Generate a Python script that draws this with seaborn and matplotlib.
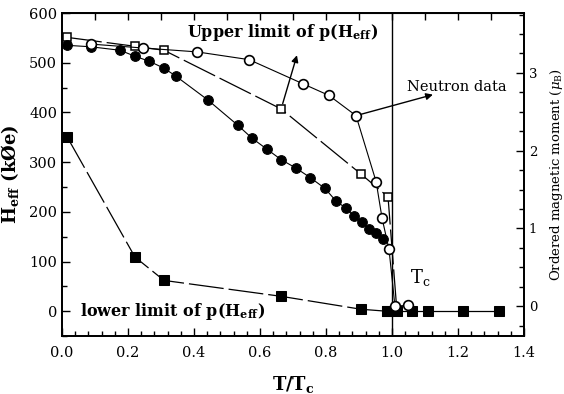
import numpy as np
import matplotlib
matplotlib.use("Agg")
import matplotlib.pyplot as plt
from matplotlib.ticker import MultipleLocator
import seaborn as sns

# Hyperfine field (filled circles, left axis, kOe)
heff_t = [0.015, 0.088, 0.176, 0.221, 0.264, 0.309, 0.345, 0.442, 0.533, 0.576,
          0.621, 0.664, 0.709, 0.752, 0.797, 0.830, 0.861, 0.885, 0.909, 0.930,
          0.952, 0.973]
heff_h = [535, 532, 525, 513, 503, 489, 473, 425, 374, 348,
          326, 305, 288, 269, 247, 222, 207, 191, 179, 165,
          157, 145]

# Upper limit of p(Heff) (open squares, left axis)
upper_t = [0.015, 0.221, 0.309, 0.664, 0.906, 0.988, 1.015]
upper_h = [551, 533, 525, 407, 276, 230, 0]

# Lower limit of p(Heff) (filled squares, left axis)
lower_t = [0.016, 0.221, 0.309, 0.664, 0.906, 0.984]
lower_h = [350, 109, 62, 30, 4, 0]
above_t = [0.984, 1.015, 1.06, 1.108, 1.215, 1.324]
above_h = [0, 0, 0, 0, 0, 0]

# Neutron data (open circles, right axis, mu_B)
neut_t = [0.088, 0.245, 0.409, 0.567, 0.730, 0.809, 0.891, 0.952, 0.970,
          0.991, 1.009, 1.048]
neut_m = [3.37, 3.32, 3.27, 3.17, 2.86, 2.71, 2.45, 1.60, 1.13,
          0.73, 0.0, 0.01]

sns.set_style("ticks")
plt.rcParams["font.family"] = ["DejaVu Serif"]
plt.rcParams["mathtext.fontset"] = "dejavuserif"
for k in ("text.color", "axes.labelcolor", "xtick.color", "ytick.color", "axes.edgecolor"):
    plt.rcParams[k] = "black"

fig = plt.figure(figsize=(5.64, 3.94), dpi=100)
ax = fig.add_axes([0.110, 0.147, 0.819, 0.820])
ax2 = ax.twinx()

long_dash = (0, (28, 4))
sns.lineplot(x=lower_t, y=lower_h, ax=ax, color="black", lw=0.9, linestyle=long_dash,
             marker="s", markersize=6.5, markerfacecolor="black", markeredgecolor="black",
             estimator=None, sort=False, zorder=4)
sns.lineplot(x=above_t, y=above_h, ax=ax, color="black", lw=0.9,
             marker="s", markersize=6.5, markerfacecolor="black", markeredgecolor="black",
             estimator=None, sort=False, zorder=5)
sns.lineplot(x=upper_t, y=upper_h, ax=ax, color="black", lw=0.9, linestyle=long_dash,
             marker="s", markersize=6, markerfacecolor="white", markeredgecolor="black",
             markeredgewidth=1.1, estimator=None, sort=False, zorder=3)
sns.lineplot(x=heff_t, y=heff_h, ax=ax, color="black", lw=0.8,
             marker="o", markersize=7, markerfacecolor="black", markeredgecolor="black",
             estimator=None, sort=False, zorder=3)
sns.lineplot(x=neut_t, y=neut_m, ax=ax2, color="black", lw=0.8,
             marker="o", markersize=7, markerfacecolor="white", markeredgecolor="black",
             markeredgewidth=1.2, estimator=None, sort=False, zorder=3)

ax.axvline(1.0, color="black", lw=1.0)

ax.set_xlim(0, 1.4)
ax.set_ylim(-50, 600)
ax2.set_ylim(-0.385, 3.77)

ax.xaxis.set_major_locator(MultipleLocator(0.2))
ax.xaxis.set_minor_locator(MultipleLocator(0.04))
ax.yaxis.set_major_locator(MultipleLocator(100))
ax.yaxis.set_minor_locator(MultipleLocator(50))
ax2.yaxis.set_major_locator(MultipleLocator(1))
ax2.yaxis.set_minor_locator(MultipleLocator(0.25))
ax.set_xticks(np.arange(0, 1.41, 0.2))
ax.set_xticklabels(["0.0", "0.2", "0.4", "0.6", "0.8", "1.0", "1.2", "1.4"])

for a in (ax, ax2):
    a.tick_params(which="both", direction="in", width=1.0, labelsize=10.5)
    a.tick_params(which="major", length=6)
    a.tick_params(which="minor", length=3.5)
    for s in a.spines.values():
        s.set_linewidth(1.3)
ax.tick_params(axis="x", pad=7)
ax2.tick_params(labelsize=9.5)

top = ax.secondary_xaxis("top")
top.set_xticks(np.arange(0.1, 1.4, 0.1))
top.tick_params(direction="in", length=5, width=1.0, labeltop=False)

ax.set_xlabel(r"T/T$_\mathregular{c}$", fontsize=13, fontweight="bold", labelpad=10)
ax.set_ylabel(r"H$_\mathregular{eff}$ (kØe)", fontsize=13, fontweight="bold", labelpad=6)
ax2.set_ylabel(r"Ordered magnetic moment ($\mu_\mathregular{B}$)", fontsize=9.5, labelpad=8)

ax.text(0.378, 560, r"Upper limit of p(H$_\mathregular{eff}$)", fontsize=11.5,
        fontweight="bold", va="center", ha="left")
ax.annotate("", xy=(0.712, 515), xytext=(0.664, 407),
            arrowprops=dict(arrowstyle="-|>", color="black", lw=1.0, shrinkA=4, shrinkB=0,
                            mutation_scale=10))
ax.text(1.045, 451, "Neutron data", fontsize=10.5, va="center", ha="left")
ax2.annotate("", xy=(1.124, 2.72), xytext=(0.891, 2.45),
             arrowprops=dict(arrowstyle="-|>", color="black", lw=1.0, shrinkA=4, shrinkB=0,
                             mutation_scale=10))
ax.text(1.055, 68, r"T$_\mathregular{c}$", fontsize=13, va="center", ha="left")
ax.text(0.055, 0, r"lower limit of p(H$_\mathregular{eff}$)", fontsize=11.5,
        fontweight="bold", va="center", ha="left")

fig.savefig("out.png", dpi=100)
